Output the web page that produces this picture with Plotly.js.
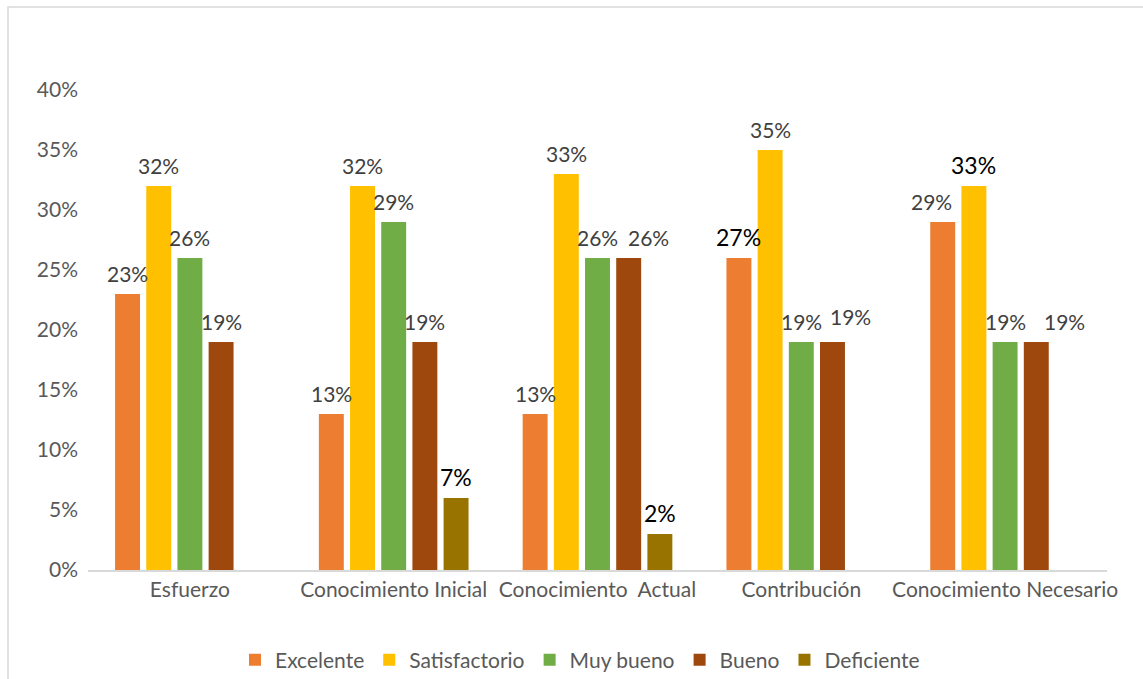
<!DOCTYPE html>
<html>
<head>
<meta charset="utf-8">
<script src="https://cdn.plot.ly/plotly-3.0.1.min.js"></script>
<style>
  html, body { margin: 0; padding: 0; background: #fff; overflow: hidden; }
  #chart { width: 1143px; height: 679px; }
</style>
</head>
<body>
<div id="chart"></div>
<script>
// ---- Data ----
const categories = ["Esfuerzo", "Conocimiento Inicial", "Conocimiento\u00A0 Actual", "Contribución", "Conocimiento Necesario"];
const seriesNames = ["Excelente", "Satisfactorio", "Muy bueno", "Bueno", "Deficiente"];

const excelente     = [23, 13, 13, 26, 29];
const satisfactorio = [32, 32, 33, 35, 32];
const muyBueno      = [26, 29, 26, 19, 19];
const bueno         = [19, 19, 26, 19, 19];
const deficiente    = [null, 6, 3, null, null];

const excelenteLabels     = ["23%", "13%", "13%", "27%", "29%"];
const satisfactorioLabels = ["32%", "32%", "33%", "35%", "33%"];
const muyBuenoLabels      = ["26%", "29%", "26%", "19%", "19%"];
const buenoLabels         = ["19%", "19%", "26%", "19%", "19%"];
const deficienteLabels    = [null, "7%", "2%", null, null];

const yTickVals = [0, 5, 10, 15, 20, 25, 30, 35, 40];

// ---- Styling ----
const colors = ["#ED7D31", "#FFC000", "#70AD47", "#9E480E", "#997300"];
const values = [excelente, satisfactorio, muyBueno, bueno, deficiente];
const labels = [excelenteLabels, satisfactorioLabels, muyBuenoLabels, buenoLabels, deficienteLabels];
// labels drawn in black (as in the reference)
const emphasis = {"0,3": true, "1,4": true, "4,1": true, "4,2": true};
// small nudges of some labels [dx, dy] in px
const nudges = {"3,2": [20, 0], "3,3": [18, 5], "3,4": [28, 0], "0,4": [-11, 0]};

const W = 1143, H = 679;
const margin = {l: 88, r: 36, t: 90, b: 109, pad: 0, autoexpand: false};
const bargap = 0.235, bargroupgap = 0.2;
const plotW = W - margin.l - margin.r;
const plotH = H - margin.t - margin.b;
const catW = plotW / categories.length;
const slotW = catW * (1 - bargap) / seriesNames.length;

const traces = seriesNames.map((name, i) => ({
  type: "bar",
  name: name,
  x: categories,
  y: values[i],
  marker: {color: colors[i]},
  hoverinfo: "skip"
}));

const annotations = [];
labels.forEach((arr, i) => {
  arr.forEach((t, j) => {
    if (t === null) return;
    const key = i + "," + j;
    const em = !!emphasis[key];
    const n = nudges[key] || [0, 0];
    annotations.push({
      x: categories[j], y: values[i][j], xref: "x", yref: "y",
      text: t, showarrow: false,
      xanchor: "center", yanchor: "middle",
      xshift: (i - 2) * slotW + n[0],
      yshift: 21 + n[1],
      font: {family: "Lato, 'Open Sans', sans-serif", size: em ? 23 : 21, color: em ? "#000000" : "#404040"}
    });
  });
});

function px2x(px) { return (px - margin.l) / plotW; }
function py2y(py) { return (H - margin.b - py) / plotH; }

const layout = {
  width: W, height: H,
  margin: margin,
  paper_bgcolor: "#ffffff",
  plot_bgcolor: "#ffffff",
  barmode: "group",
  bargap: bargap,
  bargroupgap: bargroupgap,
  font: {family: "Lato, 'Open Sans', sans-serif", color: "#595959"},
  showlegend: true,
  legend: {
    orientation: "h",
    x: px2x(580), y: py2y(660),
    xanchor: "center", yanchor: "middle",
    font: {size: 21, color: "#595959"},
    itemclick: false, itemdoubleclick: false,
    traceorder: "normal"
  },
  xaxis: {
    type: "category",
    showgrid: false,
    zeroline: false,
    showline: true,
    linecolor: "#D9D9D9",
    linewidth: 1.5,
    ticks: "",
    tickfont: {size: 21, color: "#595959"},
    fixedrange: true
  },
  yaxis: {
    range: [0, 40],
    tickvals: yTickVals,
    ticktext: yTickVals.map(v => v + "%"),
    showgrid: false,
    zeroline: false,
    showline: false,
    ticks: "",
    tickfont: {size: 21, color: "#595959"},
    ticklabelstandoff: 9,
    fixedrange: true
  },
  annotations: annotations,
  shapes: [{
    type: "rect", xref: "paper", yref: "paper",
    x0: px2x(8), x1: px2x(W + 20),
    y0: py2y(H + 20), y1: py2y(7),
    line: {color: "#D9D9D9", width: 1.5},
    fillcolor: "rgba(0,0,0,0)",
    layer: "below"
  }]
};

Plotly.newPlot("chart", traces, layout, {displayModeBar: false, staticPlot: true});
</script>
</body>
</html>
